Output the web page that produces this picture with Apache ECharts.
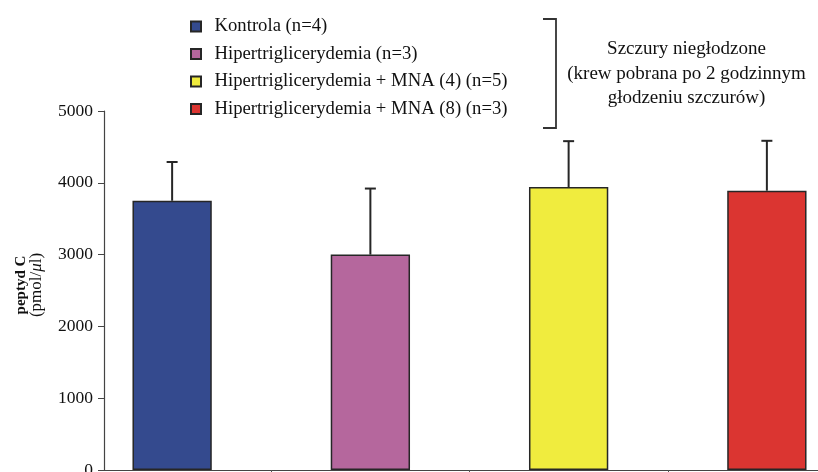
<!DOCTYPE html>
<html>
<head>
<meta charset="utf-8">
<script src="https://cdn.jsdelivr.net/npm/echarts@6/dist/echarts.min.js"></script>
<style>
  html, body { margin: 0; padding: 0; background: #ffffff; }
  #chart { width: 818px; height: 472px; }
</style>
</head>
<body>
<div id="chart"></div>
<script>
// Groups of rats and their C-peptide results (mean and SD, pmol/µl)
const groups = [
  'Kontrola (n=4)',
  'Hipertriglicerydemia (n=3)',
  'Hipertriglicerydemia + MNA (4) (n=5)',
  'Hipertriglicerydemia + MNA (8) (n=3)'
];
const means = [3750, 3000, 3940, 3890];
const errors = [540, 920, 640, 695];
const colors = ['#344a8e', '#b5679d', '#f0ec3e', '#db3531'];
const yTicks = [0, 1000, 2000, 3000, 4000, 5000];

const FONT = "'Liberation Serif', 'Times New Roman', serif";
const INK = '#262626';

const chart = echarts.init(document.getElementById('chart'), null, { renderer: 'canvas' });

// One bar series per group, stacked so each sits centred in its own slot
const barSeries = groups.map((name, i) => ({
  name: name,
  type: 'bar',
  xAxisIndex: 1,
  yAxisIndex: 1,
  stack: 'groups',
  barWidth: '40%',
  itemStyle: { color: colors[i], borderColor: INK, borderWidth: 1.5 },
  data: groups.map((_, j) => (j === i ? means[j] : '-')),
  z: 2
}));

// Upward SD whiskers on each bar
const errorSeries = {
  type: 'custom',
  name: 'SD',
  xAxisIndex: 1,
  yAxisIndex: 1,
  z: 5,
  data: means.map((m, i) => [i, m, m + errors[i]]),
  renderItem: function (params, api) {
    const base = api.coord([api.value(0), api.value(1)]);
    const top = api.coord([api.value(0), api.value(2)]);
    const half = 5.5;
    return {
      type: 'group',
      children: [
        { type: 'line', shape: { x1: base[0], y1: base[1], x2: top[0], y2: top[1] },
          style: { stroke: INK, lineWidth: 2 } },
        { type: 'line', shape: { x1: top[0] - half, y1: top[1], x2: top[0] + half, y2: top[1] },
          style: { stroke: INK, lineWidth: 2 } }
      ]
    };
  }
};

const option = {
  backgroundColor: '#ffffff',
  animation: false,
  grid: [
    // frame: visible value axis and baseline
    { left: 104, top: 111, bottom: 2, width: 762, outerBoundsMode: 'none', containLabel: false },
    // bar slots
    { left: 73, top: 111, bottom: 2, width: 793, outerBoundsMode: 'none', containLabel: false }
  ],
  legend: {
    data: groups,
    orient: 'vertical',
    left: 190,
    top: 17,
    padding: 0,
    itemWidth: 10,
    itemHeight: 10,
    itemGap: 8.5,
    icon: 'rect',
    selectedMode: false,
    textStyle: { fontFamily: FONT, fontSize: 18.7, color: '#111', lineHeight: 19, padding: [0, 0, 0, 8.5] }
  },
  xAxis: [
    {
      gridIndex: 0, type: 'value', min: 0, max: 1,
      axisLine: { show: true, lineStyle: { color: '#444', width: 1.2 } },
      axisTick: { show: false }, axisLabel: { show: false }, splitLine: { show: false }
    },
    {
      gridIndex: 1, type: 'category', data: groups, boundaryGap: true,
      axisLine: { show: false },
      // dividers between groups only (no tick under the value axis labels)
      axisTick: { show: true, length: 5, interval: (idx) => idx !== 0, lineStyle: { color: '#555' } },
      axisLabel: { show: false, interval: 0 }, splitLine: { show: false }
    }
  ],
  yAxis: [
    {
      gridIndex: 0, type: 'value', min: yTicks[0], max: yTicks[yTicks.length - 1], interval: 1000,
      axisLine: { show: true, lineStyle: { color: '#444', width: 1.2 } },
      axisTick: { show: true, length: 6, lineStyle: { color: '#444' } },
      axisLabel: { fontFamily: FONT, fontSize: 17.5, color: '#111', margin: 11,
                   formatter: (v) => String(v) },
      splitLine: { show: false }
    },
    {
      gridIndex: 1, type: 'value', min: yTicks[0], max: yTicks[yTicks.length - 1], interval: 1000,
      show: false, splitLine: { show: false }
    }
  ],
  graphic: [
    // axis title
    {
      type: 'text', x: 21, y: 285, rotation: Math.PI / 2,
      style: { text: 'peptyd C', fontFamily: FONT, fontSize: 15, fontWeight: 'bold', fill: '#111',
               align: 'center', verticalAlign: 'middle' }
    },
    {
      type: 'text', x: 37, y: 285, rotation: Math.PI / 2,
      style: {
        text: '(pmol/{mu|μ}l)', fontFamily: FONT, fontSize: 17, fill: '#111',
        align: 'center', verticalAlign: 'middle',
        rich: { mu: { fontFamily: FONT, fontSize: 17, fontStyle: 'italic', fill: '#111' } }
      }
    },
    // bracket grouping the legend
    {
      type: 'polyline',
      shape: { points: [[543, 19], [556, 19], [556, 128], [543, 128]] },
      style: { stroke: '#333', lineWidth: 1.8, fill: null }
    },
    {
      type: 'text', x: 686.5, y: 74,
      style: {
        text: 'Szczury niegłodzone\n(krew pobrana po 2 godzinnym\ngłodzeniu szczurów)',
        fontFamily: FONT, fontSize: 19, lineHeight: 24.5, fill: '#111',
        align: 'center', verticalAlign: 'middle'
      }
    }
  ],
  series: barSeries.concat([errorSeries])
};

chart.setOption(option);
</script>
</body>
</html>
